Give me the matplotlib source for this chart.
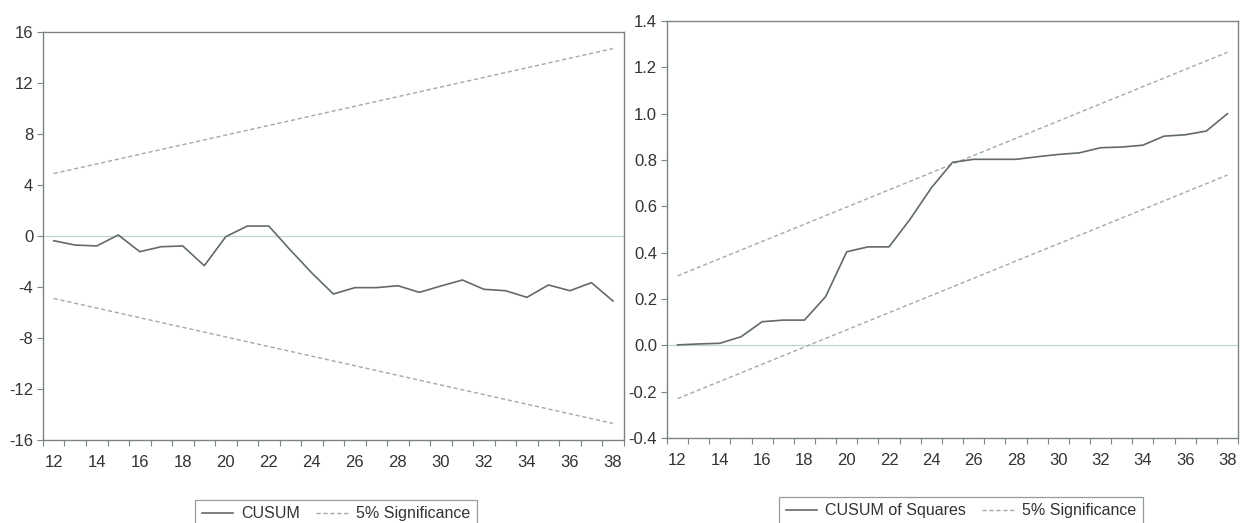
import matplotlib
matplotlib.use("Agg")
import matplotlib.pyplot as plt
from matplotlib.ticker import MultipleLocator, FixedLocator, FormatStrFormatter

plt.rcParams["font.family"] = ["Liberation Sans", "DejaVu Sans"]
plt.rcParams["axes.unicode_minus"] = False

# observations
obs = list(range(12, 39))

# CUSUM test (left panel)
cusum = [-0.37, -0.71, -0.78, 0.08, -1.23, -0.84, -0.78, -2.33, -0.05, 0.78,
         0.78, -1.1, -2.9, -4.55, -4.05, -4.05, -3.9, -4.42, -3.92, -3.45,
         -4.18, -4.29, -4.81, -3.84, -4.29, -3.66, -5.1]
cusum_bound_x = [12, 38]
cusum_upper = [4.9, 14.7]
cusum_lower = [-4.9, -14.7]

# CUSUM of squares test (right panel)
cusumsq = [0.002, 0.006, 0.009, 0.037, 0.102, 0.109, 0.109, 0.21, 0.404, 0.425,
           0.425, 0.545, 0.68, 0.79, 0.803, 0.803, 0.803, 0.814, 0.824, 0.831,
           0.853, 0.856, 0.864, 0.903, 0.909, 0.925, 1.0]
sq_upper = [0.30, 1.265]
sq_lower = [-0.23, 0.735]

LINE = "#626a6c"
SIG = "#a3a9ab"
ZERO = "#c2d3d6"
AXC = "#7a8486"
TXT = "#333333"

fig = plt.figure(figsize=(12.42, 5.23), dpi=100)
ax1 = fig.add_axes([0.0346, 0.1587, 0.4676, 0.7801])
ax2 = fig.add_axes([0.537, 0.1625, 0.4598, 0.7973])


def style(ax):
    ax.set_xlim(11.5, 38.5)
    ax.xaxis.set_major_locator(FixedLocator(list(range(12, 39, 2))))
    ax.xaxis.set_minor_locator(MultipleLocator(1, offset=0.5))
    ax.tick_params(axis="x", which="major", length=0, pad=11, labelsize=12, colors=TXT)
    ax.tick_params(axis="x", which="minor", length=4, width=0.8, color=AXC, direction="out")
    ax.tick_params(axis="y", which="major", length=4, width=0.8, color=AXC, labelsize=12,
                   labelcolor=TXT, pad=3)
    for s in ax.spines.values():
        s.set_color(AXC)
        s.set_linewidth(1.0)
    ax.axhline(0, color=ZERO, lw=0.9, zorder=1)


style(ax1)
ax1.set_ylim(-16, 16)
ax1.yaxis.set_major_locator(MultipleLocator(4))
ax1.plot(obs, cusum, color=LINE, lw=1.2, label="CUSUM", zorder=3)
ax1.plot(cusum_bound_x, cusum_upper, color=SIG, lw=1.0, ls=(0, (3, 2)),
         label="5% Significance", zorder=2)
ax1.plot(cusum_bound_x, cusum_lower, color=SIG, lw=1.0, ls=(0, (3, 2)), zorder=2)

style(ax2)
ax2.set_ylim(-0.4, 1.4)
ax2.yaxis.set_major_locator(MultipleLocator(0.2))
ax2.yaxis.set_major_formatter(FormatStrFormatter("%.1f"))
ax2.plot(obs, cusumsq, color=LINE, lw=1.2, label="CUSUM of Squares", zorder=3)
ax2.plot(cusum_bound_x, sq_upper, color=SIG, lw=1.0, ls=(0, (3, 2)),
         label="5% Significance", zorder=2)
ax2.plot(cusum_bound_x, sq_lower, color=SIG, lw=1.0, ls=(0, (3, 2)), zorder=2)

for ax, cx, top in [(ax1, 336 / 1242, 1 - 492 / 523), (ax2, 961 / 1242, 1 - 489 / 523)]:
    leg = ax.legend(loc="upper center", bbox_to_anchor=(cx, top),
                    bbox_transform=fig.transFigure, ncol=2, frameon=True,
                    fancybox=False, fontsize=11.5, handlelength=2.0,
                    columnspacing=1.0, borderpad=0.4, handletextpad=0.5)
    leg.get_frame().set_edgecolor(AXC)
    leg.get_frame().set_linewidth(0.9)
    for t in leg.get_texts():
        t.set_color(TXT)

fig.savefig("out.png", dpi=100)
